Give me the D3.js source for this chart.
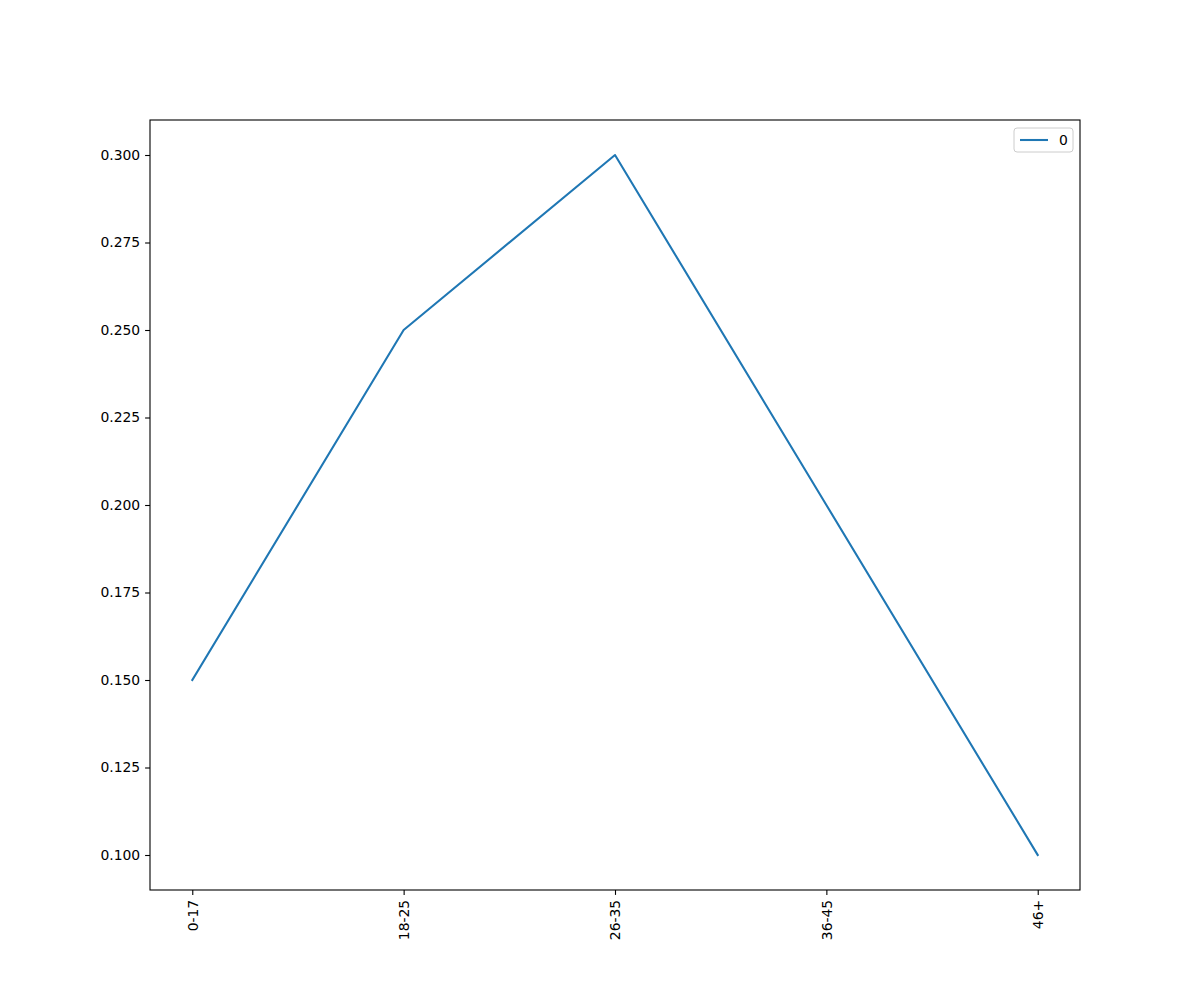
<!DOCTYPE html>
<html>
<head>
<meta charset="utf-8">
<script src="https://cdn.jsdelivr.net/npm/d3@7"></script>
<style>
  html, body { margin: 0; padding: 0; background: #fff; overflow: hidden; }
  svg { display: block; }
  text { font-family: "DejaVu Sans", sans-serif; }
</style>
</head>
<body>
<div id="chart"></div>
<script>
// data
const categories = ['0-17', '18-25', '26-35', '36-45', '46+'];
const values = [0.15, 0.25, 0.30, 0.20, 0.10];
const seriesName = '0';
const yTicks = [0.100, 0.125, 0.150, 0.175, 0.200, 0.225, 0.250, 0.275, 0.300];

const width = 1200, height = 1000;
const margin = { top: 120, right: 120, bottom: 110, left: 150 };
const innerWidth = width - margin.left - margin.right;
const innerHeight = height - margin.top - margin.bottom;
const color = '#1f77b4';

const svg = d3.select('#chart').append('svg')
  .attr('width', width)
  .attr('height', height);

const g = svg.append('g')
  .attr('transform', `translate(${margin.left}, ${margin.top})`);

// matplotlib-like 5% margins
const n = categories.length - 1;
const xScale = d3.scaleLinear()
  .domain([-0.05 * n, n + 0.05 * n])
  .range([0, innerWidth]);

const yMin = d3.min(values), yMax = d3.max(values);
const pad = (yMax - yMin) * 0.05;
const yScale = d3.scaleLinear()
  .domain([yMin - pad, yMax + pad])
  .range([innerHeight, 0]);

const line = d3.line()
  .x((d, i) => xScale(i))
  .y(d => yScale(d));

g.append('path')
  .datum(values)
  .attr('fill', 'none')
  .attr('stroke', color)
  .attr('stroke-width', 2.08)
  .attr('stroke-linejoin', 'round')
  .attr('stroke-linecap', 'square')
  .attr('d', line);

// axes
const xAxis = d3.axisBottom(xScale)
  .tickValues(d3.range(categories.length))
  .tickFormat(i => categories[i])
  .tickSize(4.9)
  .tickPadding(4.9);

const yAxis = d3.axisLeft(yScale)
  .tickValues(yTicks)
  .tickFormat(d3.format('.3f'))
  .tickSize(4.9)
  .tickPadding(4.9);

const xg = g.append('g')
  .attr('transform', `translate(0, ${innerHeight})`)
  .call(xAxis);
xg.select('.domain').remove();
xg.selectAll('text')
  .attr('x', 0)
  .attr('y', 0)
  .attr('dy', '0.35em')
  .attr('transform', 'translate(0, 9.8) rotate(-90)')
  .style('text-anchor', 'end');

const yg = g.append('g').call(yAxis);
yg.select('.domain').remove();

[xg, yg].forEach(a => {
  a.selectAll('text').attr('font-size', 13.9).attr('fill', '#000')
    .style('font-family', '"DejaVu Sans", sans-serif');
  a.selectAll('line').attr('stroke', '#000').attr('stroke-width', 1.1);
});

// frame
g.append('rect')
  .attr('width', innerWidth)
  .attr('height', innerHeight)
  .attr('fill', 'none')
  .attr('stroke', '#000')
  .attr('stroke-width', 1.1);

// legend
const legend = g.append('g')
  .attr('transform', `translate(${innerWidth - 66}, 8)`);
legend.append('rect')
  .attr('width', 59)
  .attr('height', 24)
  .attr('rx', 3)
  .attr('fill', '#fff')
  .attr('fill-opacity', 0.8)
  .attr('stroke', '#ccc')
  .attr('stroke-width', 1);
legend.append('line')
  .attr('x1', 6).attr('x2', 34)
  .attr('y1', 12).attr('y2', 12)
  .attr('stroke', color)
  .attr('stroke-width', 2.08);
legend.append('text')
  .attr('x', 45)
  .attr('y', 12)
  .attr('dy', '0.35em')
  .attr('font-size', 13.9)
  .text(seriesName);
</script>
</body>
</html>
